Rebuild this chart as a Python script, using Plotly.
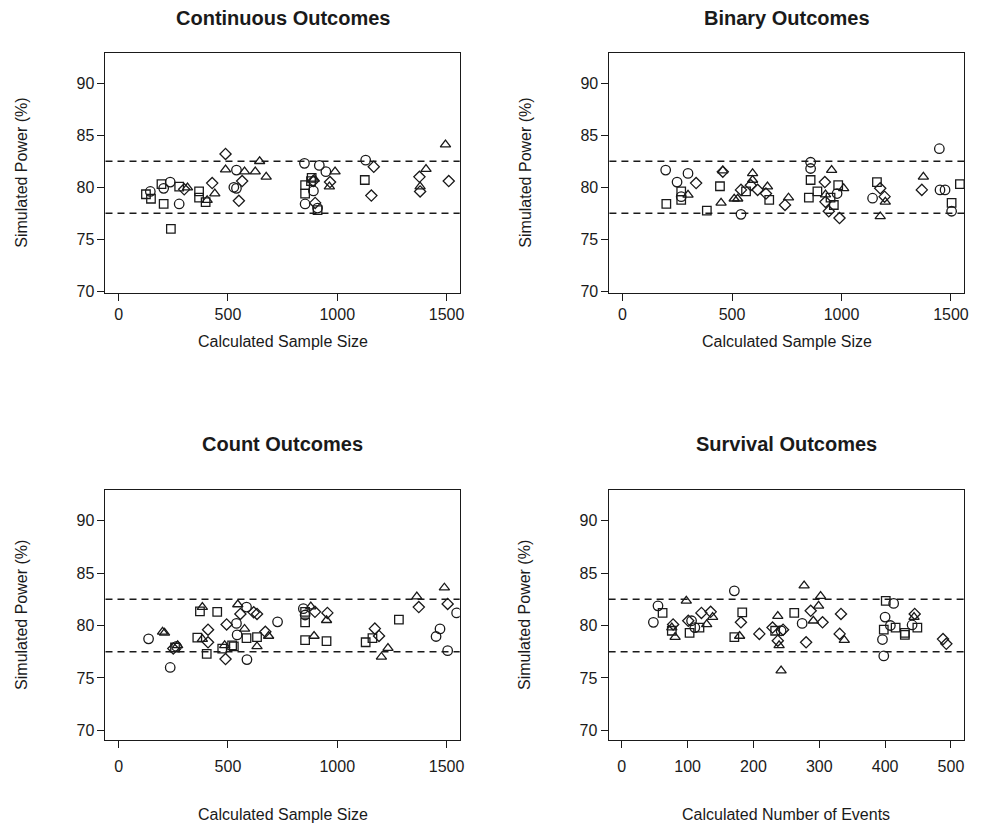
import plotly.graph_objects as go

# ---------------- data ----------------
cont_circle_x = [145, 236, 206, 277, 527, 539, 539, 850, 918, 948, 891, 853, 910, 1130]
cont_circle_y = [79.6, 80.5, 79.9, 78.4, 80.0, 81.65, 79.9, 82.3, 82.1, 81.5, 79.65, 78.4, 78.0, 82.6]
cont_square_x = [125, 148, 196, 206, 239, 277, 368, 368, 398, 883, 853, 853, 910, 1126, 880]
cont_square_y = [79.33, 78.9, 80.3, 78.4, 76.0, 80.07, 79.6, 79.0, 78.57, 80.9, 80.2, 79.4, 77.8, 80.7, 80.6]
cont_diamond_x = [300, 428, 489, 565, 550, 890, 967, 899, 1167, 1156, 1376, 1379, 1510]
cont_diamond_y = [79.8, 80.4, 83.2, 80.6, 78.7, 80.6, 80.5, 78.5, 81.97, 79.2, 81.0, 79.6, 80.6]
cont_tri_x = [315, 405, 440, 489, 576, 645, 625, 675, 990, 964, 895, 1406, 1379, 1495]
cont_tri_y = [79.97, 78.76, 79.4, 81.7, 81.5, 82.5, 81.5, 81.0, 81.5, 80.07, 80.8, 81.75, 80.07, 84.1]

bin_circle_x = [197, 299, 249, 541, 859, 859, 980, 1447, 1142, 1450, 1473, 1503, 268]
bin_circle_y = [81.65, 81.33, 80.5, 77.4, 82.4, 81.8, 79.4, 83.7, 78.95, 79.75, 79.75, 77.7, 79.1]
bin_square_x = [268, 268, 200, 385, 445, 564, 670, 859, 851, 890, 985, 965, 950, 1162, 1541, 1503]
bin_square_y = [79.6, 78.8, 78.4, 77.75, 80.1, 79.6, 78.8, 80.7, 79.0, 79.6, 80.2, 78.3, 79.0, 80.5, 80.3, 78.5]
bin_diamond_x = [336, 458, 541, 586, 617, 655, 742, 924, 927, 942, 991, 1177, 1197, 1367]
bin_diamond_y = [80.4, 81.5, 79.75, 80.2, 79.75, 79.4, 78.3, 80.5, 78.6, 77.7, 77.05, 79.9, 79.1, 79.75]
bin_tri_x = [299, 458, 450, 510, 594, 526, 594, 662, 758, 955, 1010, 927, 1200, 1177, 1374]
bin_tri_y = [79.27, 81.6, 78.5, 78.9, 81.33, 78.9, 80.7, 80.07, 79.0, 81.65, 79.9, 79.3, 78.6, 77.2, 81.0]

cnt_circle_x = [137, 236, 265, 585, 539, 727, 542, 587, 845, 853, 1546, 1470, 1452, 1505]
cnt_circle_y = [78.73, 76.0, 78.0, 81.75, 80.2, 80.35, 79.1, 76.75, 81.6, 81.0, 81.2, 79.67, 78.95, 77.6]
cnt_square_x = [258, 372, 451, 360, 403, 474, 519, 585, 633, 527, 853, 853, 853, 951, 1282, 1161, 1130]
cnt_square_y = [77.9, 81.35, 81.3, 78.85, 77.3, 77.8, 78.1, 78.8, 78.9, 78.0, 81.3, 80.3, 78.6, 78.5, 80.55, 78.8, 78.4]
cnt_diamond_x = [250, 494, 409, 409, 489, 618, 633, 557, 671, 898, 955, 1373, 1505, 1172, 1191]
cnt_diamond_y = [77.8, 80.1, 79.6, 78.4, 76.8, 81.25, 81.1, 81.1, 79.4, 81.3, 81.2, 81.75, 82.05, 79.7, 79.0]
cnt_tri_x = [201, 210, 270, 383, 383, 485, 545, 576, 686, 633, 879, 951, 894, 1490, 1364, 1232, 1202]
cnt_tri_y = [79.4, 79.3, 78.1, 81.75, 78.7, 78.1, 82.0, 79.67, 79.0, 78.0, 81.8, 80.5, 79.0, 83.6, 82.75, 77.85, 77.0]

surv_circle_x = [55, 48, 106, 111, 171, 274, 242, 413, 400, 396, 398, 408, 441]
surv_circle_y = [81.87, 80.3, 80.45, 79.8, 83.3, 80.2, 79.5, 82.1, 80.8, 78.66, 77.1, 80.0, 80.05]
surv_square_x = [62, 76, 103, 118, 171, 183, 233, 262, 401, 398, 416, 430, 430, 449]
surv_square_y = [81.2, 79.5, 79.3, 79.8, 78.9, 81.25, 79.5, 81.2, 82.35, 79.6, 79.8, 79.3, 79.1, 79.8]
surv_diamond_x = [78, 101, 121, 135, 181, 209, 229, 245, 237, 280, 287, 305, 333, 331, 445, 488, 493]
surv_diamond_y = [80.1, 80.45, 81.2, 81.3, 80.3, 79.2, 79.8, 79.6, 78.55, 78.4, 81.4, 80.3, 81.1, 79.2, 81.1, 78.7, 78.25]
surv_tri_x = [98, 76, 81, 129, 138, 179, 237, 239, 242, 277, 302, 299, 291, 338, 444]
surv_tri_y = [82.35, 79.8, 78.9, 80.1, 80.8, 79.0, 80.9, 78.1, 75.7, 83.8, 82.8, 81.87, 80.45, 78.6, 80.8]

panel_titles = ["Continuous Outcomes", "Binary Outcomes", "Count Outcomes", "Survival Outcomes"]
x_titles = ["Calculated Sample Size", "Calculated Sample Size", "Calculated Sample Size", "Calculated Number of Events"]
y_title = "Simulated Power (%)"
y_ticks = [70, 75, 80, 85, 90]
x_ticks_size = [0, 500, 1000, 1500]
x_ticks_events = [0, 100, 200, 300, 400, 500]
ref_lines = [77.5, 82.5]

panels = [
    (cont_circle_x, cont_circle_y, cont_square_x, cont_square_y, cont_diamond_x, cont_diamond_y, cont_tri_x, cont_tri_y),
    (bin_circle_x, bin_circle_y, bin_square_x, bin_square_y, bin_diamond_x, bin_diamond_y, bin_tri_x, bin_tri_y),
    (cnt_circle_x, cnt_circle_y, cnt_square_x, cnt_square_y, cnt_diamond_x, cnt_diamond_y, cnt_tri_x, cnt_tri_y),
    (surv_circle_x, surv_circle_y, surv_square_x, surv_square_y, surv_diamond_x, surv_diamond_y, surv_tri_x, surv_tri_y),
]

# ---------------- layout ----------------
# page body has an 8px default margin, so the figure is sized to fit inside the window
OFF = 8
W, H = 986 - OFF, 837 - OFF
# boxes in window pixels: (left, right, top, bottom)
boxes = [
    (106.0, 462.0, 53.5, 295.3),
    (612.5, 969.0, 53.5, 295.3),
    (106.0, 462.0, 495.0, 746.8),
    (611.7, 969.0, 495.0, 746.8),
]
xranges = [[-60, 1560], [-60, 1560], [-60, 1560], [-20, 520]]
yranges = [[69.9, 92.88], [69.9, 92.88], [69.12, 92.88], [69.12, 92.88]]
title_y = [18, 18, 448, 448]
xtitle_y = [345, 345, 822, 822]
tick_standoff = [0, 0, 5, 5]

FONT = "Liberation Sans, Arial, Helvetica, sans-serif"
INK = "#1a1a1a"


def px(x):
    return (x - OFF) / W


def py(y):
    return 1 - (y - OFF) / H


fig = go.Figure()
sym = [("circle-open", 9.5), ("square-open", 8.5), ("diamond-open", 8.6), ("triangle-up-open", 9)]
annotations = []
shapes = []
layout_axes = {}

for i, p in enumerate(panels):
    xa = "x" if i == 0 else f"x{i+1}"
    ya = "y" if i == 0 else f"y{i+1}"
    for k, (s, sz) in enumerate(sym):
        fig.add_trace(go.Scatter(
            x=p[2 * k], y=p[2 * k + 1], mode="markers", xaxis=xa, yaxis=ya,
            marker=dict(symbol=s, size=sz, color=INK, line=dict(width=1.3, color=INK)),
            showlegend=False, hoverinfo="x+y"))
    l, r, t, b = boxes[i]
    xkey = "xaxis" if i == 0 else f"xaxis{i+1}"
    ykey = "yaxis" if i == 0 else f"yaxis{i+1}"
    xt = x_ticks_events if i == 3 else x_ticks_size
    layout_axes[xkey] = dict(domain=[px(l), px(r)], range=xranges[i], anchor=ya, tickvals=xt,
                             ticks="outside", ticklen=7, tickwidth=1, tickcolor=INK,
                             ticklabelstandoff=tick_standoff[i],
                             showline=True, linecolor=INK, linewidth=1, mirror=True,
                             showgrid=False, zeroline=False,
                             tickfont=dict(family=FONT, size=16, color=INK))
    layout_axes[ykey] = dict(domain=[py(b), py(t)], range=yranges[i], anchor=xa, tickvals=y_ticks,
                             ticks="outside", ticklen=7, tickwidth=1, tickcolor=INK,
                             showline=True, linecolor=INK, linewidth=1, mirror=True,
                             showgrid=False, zeroline=False,
                             tickfont=dict(family=FONT, size=16, color=INK))
    for yv in ref_lines:
        shapes.append(dict(type="line", xref=f"{xa} domain", yref=ya, x0=0, x1=1, y0=yv, y1=yv,
                           line=dict(color=INK, width=1.5, dash="7px,5px")))
    cx = px((l + r) / 2)
    annotations.append(dict(text=f"<b>{panel_titles[i]}</b>", x=cx, y=py(title_y[i]),
                            xref="paper", yref="paper", showarrow=False, xanchor="center",
                            yanchor="middle", font=dict(family=FONT, size=20, color=INK)))
    annotations.append(dict(text=x_titles[i], x=cx, y=py(xtitle_y[i]),
                            xref="paper", yref="paper", showarrow=False, xanchor="center",
                            yanchor="middle", font=dict(family=FONT, size=16, color=INK)))
    annotations.append(dict(text=y_title, x=px(l - 84), y=py((t + b) / 2),
                            xref="paper", yref="paper", showarrow=False, xanchor="center",
                            yanchor="middle", textangle=-90,
                            font=dict(family=FONT, size=16, color=INK)))

fig.update_layout(width=W, height=H, margin=dict(l=0, r=0, t=0, b=0),
                  plot_bgcolor="white", paper_bgcolor="white",
                  annotations=annotations, shapes=shapes, **layout_axes)

fig.write_html("out.html")
